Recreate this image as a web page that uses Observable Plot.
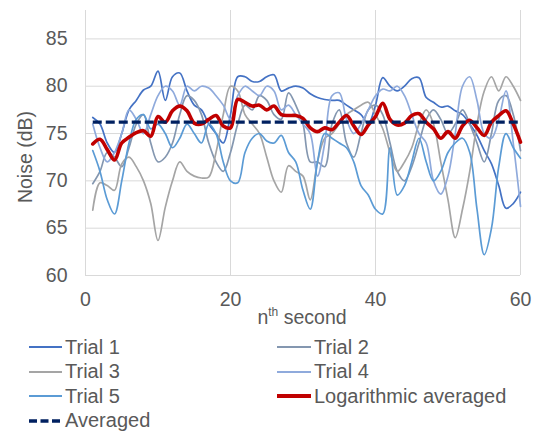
<!DOCTYPE html>
<html><head><meta charset="utf-8">
<script src="https://cdn.jsdelivr.net/npm/d3@7"></script>
<script src="https://cdn.jsdelivr.net/npm/@observablehq/plot@0.6"></script>
<style>
body{margin:0;background:#fff;font-family:"Liberation Sans",Arial,sans-serif;}
#legend{position:relative;width:537px;height:100px;color:#595959;font-size:20px;}
.item{position:absolute;display:flex;align-items:center;height:24px;white-space:nowrap;}
.item svg{margin-right:3px;display:block}
</style></head><body><div id="chart"></div><div id="legend"></div>
<script>
const seconds = [1,2,3,4,5,6,7,8,9,10,11,12,13,14,15,16,17,18,19,20,21,22,23,24,25,26,27,28,29,30,
  31,32,33,34,35,36,37,38,39,40,41,42,43,44,45,46,47,48,49,50,51,52,53,54,55,56,57,58,59,60];

const trial1 = [76.7,76.0,74.0,73.0,75.0,77.5,78.5,79.6,80.0,81.6,
  78.5,81.0,81.4,79.5,78.0,77.5,76.0,75.0,74.0,77.0,
  81.0,81.0,80.5,80.5,81.0,81.2,79.5,79.8,80.0,79.8,
  79.2,78.8,78.6,78.5,78.5,78.0,77.5,77.0,76.0,78.0,
  80.9,80.0,79.5,80.0,80.8,80.9,78.8,78.3,77.8,77.9,
  77.4,77.0,76.0,74.8,73.2,71.8,69.5,67.1,67.6,68.8];
const trial2 = [69.7,71.0,73.0,72.5,71.5,73.5,76.0,77.0,74.0,72.0,
  72.5,74.0,77.0,79.0,78.5,77.0,74.0,72.0,71.0,73.0,
  76.0,78.0,77.5,79.0,78.5,77.0,76.5,79.3,78.0,76.0,
  72.0,72.0,71.5,76.0,77.5,74.0,72.5,75.0,77.5,78.0,
  77.0,74.0,71.0,70.0,71.5,74.0,76.5,77.5,76.5,75.0,
  76.0,77.5,76.0,74.0,72.0,75.0,78.5,79.0,77.0,73.2];
const trial3 = [66.9,69.8,69.5,69.0,71.8,72.5,71.5,70.0,67.6,63.7,
  67.2,70.0,72.0,71.0,70.5,70.3,70.4,73.0,77.0,80.0,
  79.5,77.0,76.0,75.0,72.5,70.0,68.8,71.6,71.0,70.5,
  68.0,72.0,74.5,75.0,76.0,77.0,77.5,78.0,78.3,77.0,
  75.5,73.0,71.0,72.0,73.5,76.0,77.5,76.0,72.0,68.0,
  64.0,67.0,71.0,76.0,79.5,81.0,79.5,81.0,80.0,78.5];
const trial4 = [76.0,73.5,72.0,73.0,75.0,77.5,76.5,75.0,77.0,79.0,
  80.0,79.5,78.0,80.0,79.5,80.0,79.8,79.0,78.0,76.5,
  79.0,80.0,79.5,79.0,80.0,79.5,77.5,78.0,77.0,76.0,
  75.0,70.5,74.0,79.0,79.3,76.5,75.0,76.0,77.5,79.0,
  79.7,79.5,80.0,79.0,77.0,75.0,74.0,70.0,68.6,70.5,
  75.0,80.0,81.0,78.5,75.0,74.5,76.5,79.5,74.0,67.3];
const trial5 = [73.2,71.0,68.0,66.5,70.0,74.0,76.5,77.0,75.5,76.0,
  75.0,73.5,74.5,76.0,75.0,74.0,76.0,75.0,72.0,70.0,
  69.8,73.0,74.5,75.0,74.2,74.0,74.8,73.0,72.0,69.0,
  67.0,72.0,75.0,74.5,74.0,73.5,72.0,69.5,68.5,67.0,
  66.5,73.5,68.5,69.5,72.0,74.5,72.0,70.0,71.0,73.0,
  74.0,74.5,73.0,67.0,62.2,65.0,71.5,75.0,73.5,72.4];
const logAveraged = [73.9,74.4,73.3,72.2,74.0,74.6,75.1,75.3,74.7,76.8,
  76.2,77.4,77.9,77.4,76.1,76.0,76.5,76.9,75.8,75.6,
  78.6,78.3,77.9,78.0,77.5,77.9,77.0,76.9,76.9,76.6,
  75.6,75.2,75.6,75.4,76.2,76.9,75.8,74.9,75.9,76.8,
  78.2,76.5,75.9,76.1,76.9,77.1,76.2,75.5,74.5,75.2,
  74.5,75.8,76.4,75.6,74.8,76.2,76.9,77.4,76.0,74.1];
const averaged = [76.2,76.2,76.2,76.2,76.2,76.2,76.2,76.2,76.2,76.2,
  76.2,76.2,76.2,76.2,76.2,76.2,76.2,76.2,76.2,76.2,
  76.2,76.2,76.2,76.2,76.2,76.2,76.2,76.2,76.2,76.2,
  76.2,76.2,76.2,76.2,76.2,76.2,76.2,76.2,76.2,76.2,
  76.2,76.2,76.2,76.2,76.2,76.2,76.2,76.2,76.2,76.2,
  76.2,76.2,76.2,76.2,76.2,76.2,76.2,76.2,76.2,76.2];

const xTicks = [0, 20, 40, 60];
const yTicks = [60, 65, 70, 75, 80, 85];

const series = [
  {name: "Trial 1", values: trial1, color: "#4472C4", width: 1.7},
  {name: "Trial 2", values: trial2, color: "#8497B0", width: 1.7},
  {name: "Trial 3", values: trial3, color: "#A5A5A5", width: 1.7},
  {name: "Trial 4", values: trial4, color: "#8FAADC", width: 1.7},
  {name: "Trial 5", values: trial5, color: "#5B9BD5", width: 1.7},
  {name: "Logarithmic averaged", values: logAveraged, color: "#C00000", width: 3.6},
  {name: "Averaged", values: averaged, color: "#002060", width: 3.2, dash: "9,4"}
];

const grid = "#d9d9d9";
const lineMarks = series.map(s => Plot.line(seconds.map((t, i) => ({t, v: s.values[i]})), {
  x: "t", y: "v", stroke: s.color, strokeWidth: s.width, curve: "catmull-rom",
  strokeDasharray: s.dash || null, strokeLinejoin: "round", strokeLinecap: s.dash ? "butt" : "round"
}));

const chart = Plot.plot({
  width: 537, height: 332,
  marginLeft: 85, marginRight: 17, marginTop: 10, marginBottom: 57,
  style: {fontFamily: '"Liberation Sans", Arial, sans-serif', background: "#fff"},
  x: {domain: [0, 60]},
  y: {domain: [60, 88]},
  marks: [
    Plot.gridX(xTicks.slice(1), {stroke: grid, strokeOpacity: 1, strokeWidth: 1}),
    Plot.gridY(yTicks.slice(1), {stroke: grid, strokeOpacity: 1, strokeWidth: 1}),
    Plot.ruleX([0], {stroke: grid, strokeWidth: 1}),
    Plot.ruleY([60], {stroke: grid, strokeWidth: 1}),
    Plot.axisX(xTicks, {tickSize: 0, tickPadding: 17, fontSize: 19.5, fill: "#595959", label: null}),
    Plot.axisY(yTicks, {tickSize: 0, tickPadding: 18, fontSize: 19.5, fill: "#595959", label: null}),
    ...lineMarks
  ]
});
document.getElementById("chart").appendChild(chart);

const svg = d3.select(chart);
svg.append("text")
  .attr("transform", "translate(25,157) rotate(-90)")
  .attr("text-anchor", "middle").attr("dominant-baseline", "central")
  .attr("font-size", 19.5).attr("fill", "#595959")
  .text("Noise (dB)");
const xl = svg.append("text")
  .attr("x", 302).attr("y", 324).attr("text-anchor", "middle")
  .attr("font-size", 19.5).attr("fill", "#595959");
xl.append("tspan").text("n");
xl.append("tspan").attr("font-size", 12).attr("dy", -8).text("th");
xl.append("tspan").attr("dy", 8).text(" second");

// legend
const legend = document.getElementById("legend");
const cols = [{line: 29, len: 33}, {line: 277, len: 34}];
const rowTop = [3, 27.5, 52, 76.5];
series.forEach((s, i) => {
  const col = cols[i % 2], row = Math.floor(i / 2);
  const item = document.createElement("div");
  item.className = "item";
  item.style.left = col.line + "px";
  item.style.top = rowTop[row] + "px";
  const w = col.len;
  const lw = s.dash ? 3.6 : (s.width > 3 ? 4.2 : 2);
  item.innerHTML = `<svg width="${w}" height="10"><line x1="0" x2="${w}" y1="5" y2="5" stroke="${s.color}" stroke-width="${lw}" ${s.dash ? 'stroke-dasharray="8,3.5"' : ''}/></svg><span>${s.name}</span>`;
  legend.appendChild(item);
});
</script></body></html>
